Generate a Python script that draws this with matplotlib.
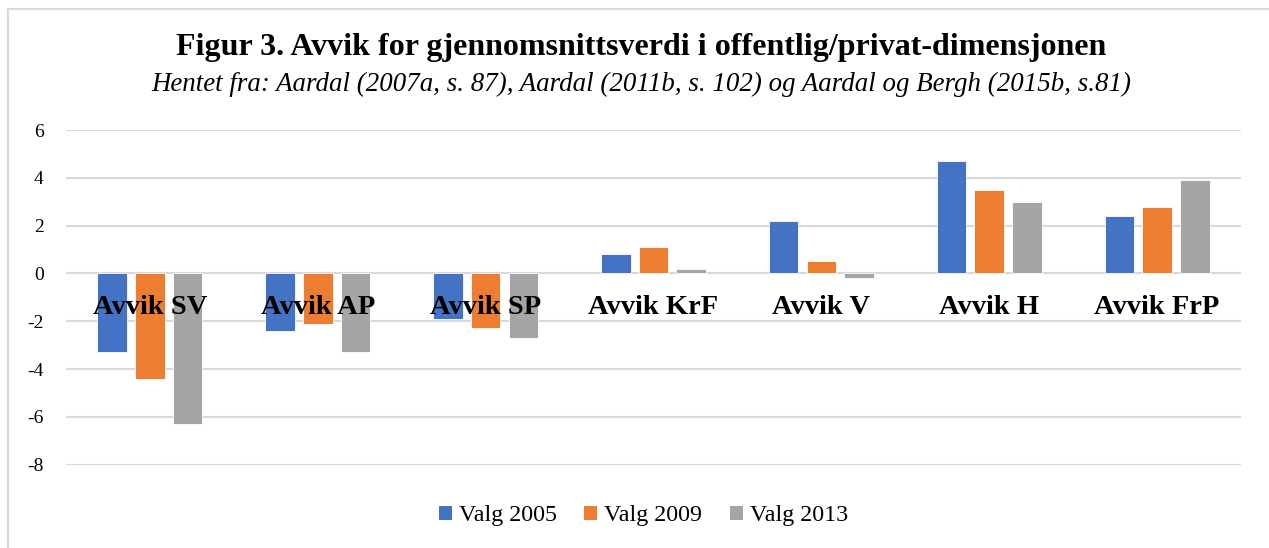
import numpy as np
import matplotlib.pyplot as plt
from matplotlib.patches import Patch, Rectangle

categories = ['Avvik SV', 'Avvik AP', 'Avvik SP', 'Avvik KrF', 'Avvik V', 'Avvik H', 'Avvik FrP']
series_names = ['Valg 2005', 'Valg 2009', 'Valg 2013']
valg_2005 = [-3.3, -2.4, -1.9, 0.8, 2.2, 4.7, 2.4]
valg_2009 = [-4.4, -2.1, -2.3, 1.1, 0.5, 3.5, 2.8]
valg_2013 = [-6.3, -3.3, -2.7, 0.2, -0.2, 3.0, 3.9]
yticks = [-8, -6, -4, -2, 0, 2, 4, 6]

colors = ['#4472C4', '#ED7D31', '#A5A5A5']
serif = ['Liberation Serif', 'DejaVu Serif']

fig = plt.figure(figsize=(12.69, 5.48), dpi=100)
# light frame of the chart area (cropped at right/bottom)
fig.patches.append(Rectangle((8 / 1269, -0.1), 1.2, (548 - 9) / 548 + 0.1,
                             transform=fig.transFigure, fill=False,
                             edgecolor='#D9D9D9', linewidth=1.5))

ax = fig.add_axes([66 / 1269, 1 - 464.7 / 548, (1241 - 66) / 1269, (464.7 - 130) / 548])
ax.set_axisbelow(True)

x = np.arange(len(categories))
width = 0.176
step = 0.225
for i, (vals, name) in enumerate(zip([valg_2005, valg_2009, valg_2013], series_names)):
    ax.bar(x + (i - 1) * step, vals, width, color=colors[i], edgecolor='white',
           linewidth=0.6, label=name, zorder=3)

ax.set_xlim(-0.5, len(categories) - 0.5)
ax.set_ylim(-8, 6)
ax.set_yticks(yticks)
ax.set_yticklabels([str(t) for t in yticks], fontfamily=serif, fontsize=14)
ax.tick_params(axis='y', length=0, pad=16)
ax.yaxis.grid(True, color='#D9D9D9', linewidth=1.5)
for s in ['top', 'right', 'left', 'bottom']:
    ax.spines[s].set_visible(False)
ax.set_xticks([])

# category labels sit just below the zero line, on top of the bars
for xi, cat in zip(x, categories):
    ax.annotate(cat, xy=(xi, 0), xytext=(0, -34), textcoords='offset pixels',
                ha='center', va='center', fontsize=20.5, fontweight='bold',
                fontfamily=serif, zorder=5)

fig.text(0.505, 1 - 48 / 548, 'Figur 3. Avvik for gjennomsnittsverdi i offentlig/privat-dimensjonen',
         ha='center', va='center', fontsize=23, fontweight='bold', fontfamily=serif)
fig.text(0.505, 1 - 84 / 548,
         'Hentet fra: Aardal (2007a, s. 87), Aardal (2011b, s. 102) og Aardal og Bergh (2015b, s.81)',
         ha='center', va='center', fontsize=19.4, style='italic', fontfamily=serif)

handles = [Patch(facecolor=c, label=n) for c, n in zip(colors, series_names)]
fig.legend(handles=handles, loc='center', bbox_to_anchor=(0.507, 1 - 516 / 548), ncol=3,
           frameon=False, prop={'family': serif, 'size': 17.3}, handlelength=0.53,
           handleheight=0.53, handletextpad=0.3, columnspacing=1.15)

fig.savefig('out.png', dpi=100, facecolor='white')
